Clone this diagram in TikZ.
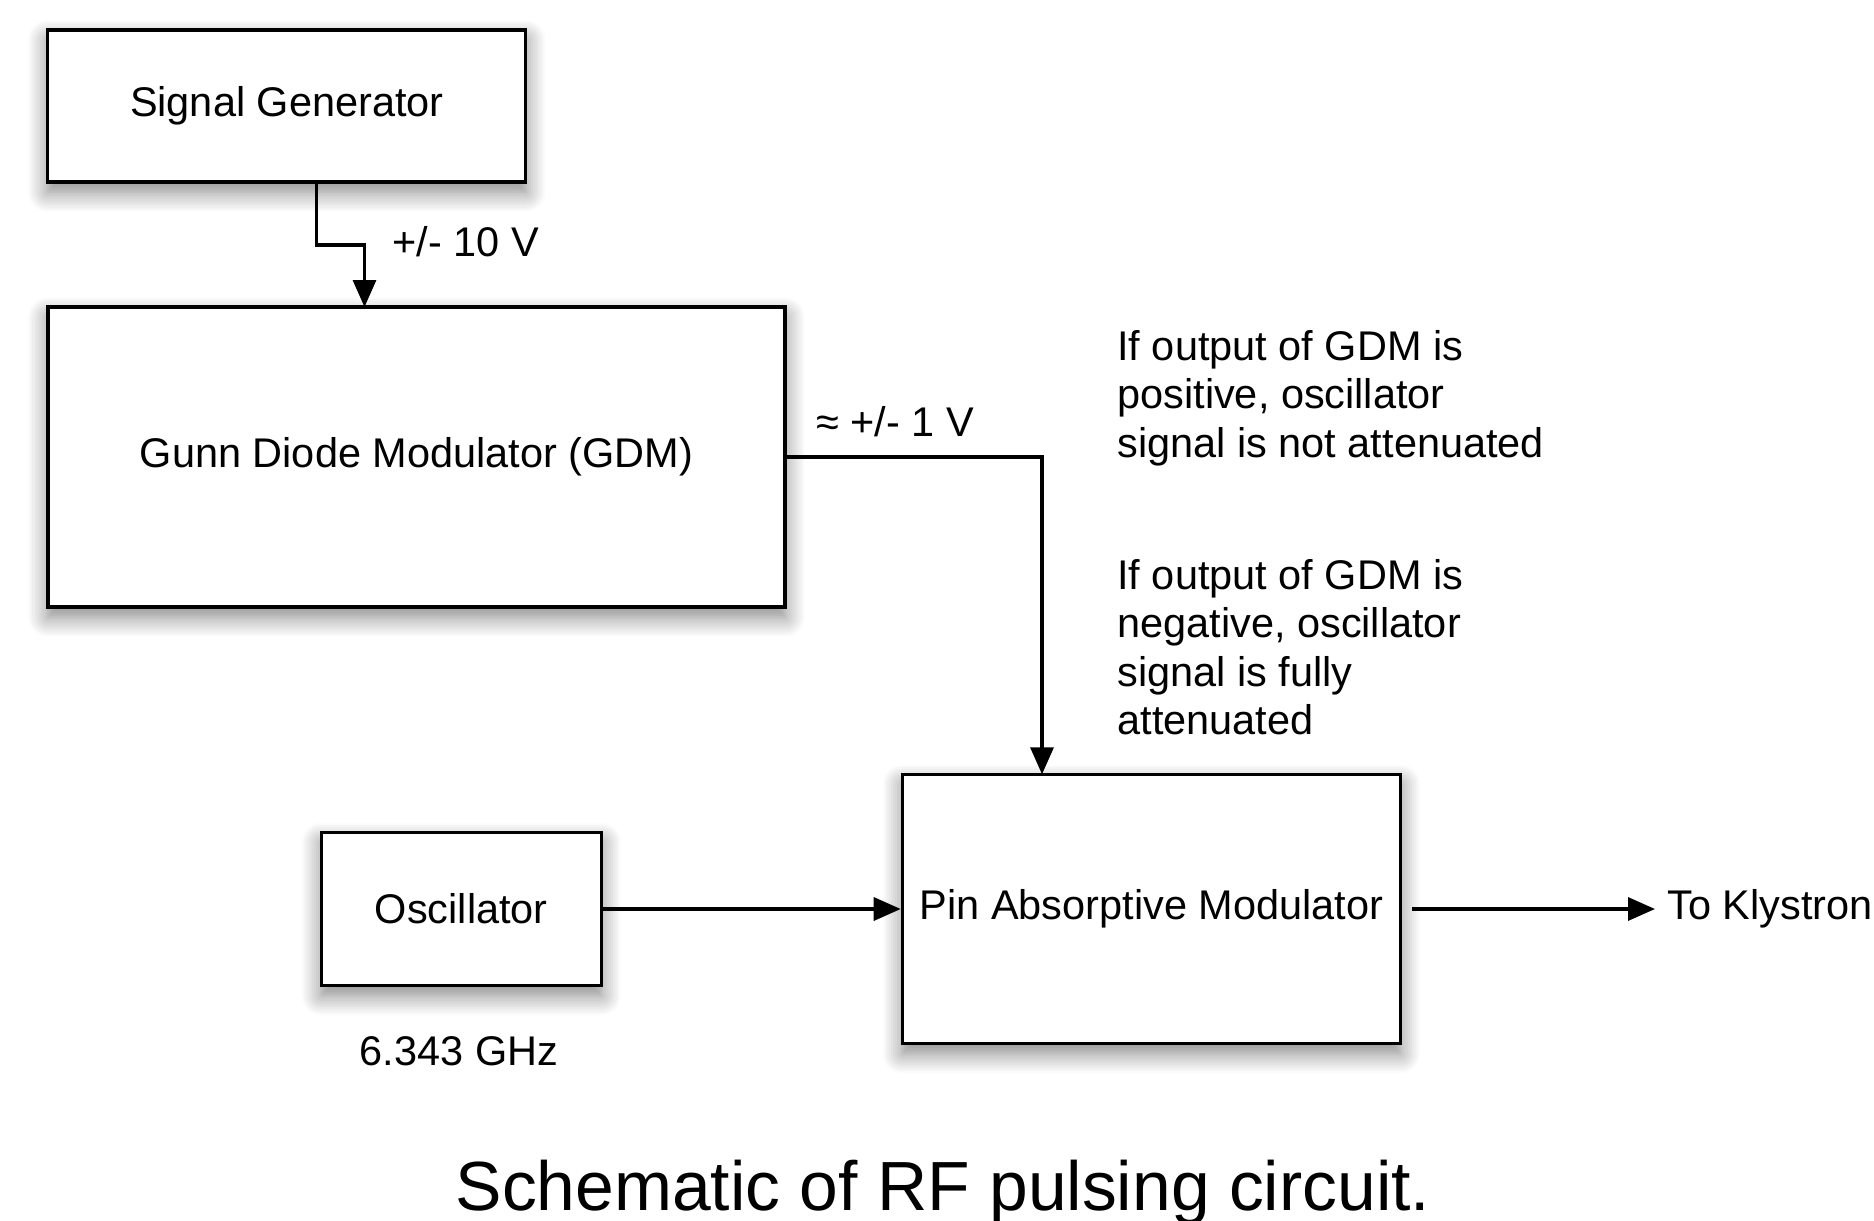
\documentclass[tikz,border=0pt]{standalone}
\usepackage{fontspec}
\setmainfont{Liberation Sans}
\usetikzlibrary{positioning, arrows.meta, shadows.blur}

\begin{document}
\begin{tikzpicture}[
        txt/.style={font=\fontsize{11.8}{13.8}\selectfont},
        block/.style={txt, draw, line width=0.95pt, fill=white, inner sep=0pt,
            blur shadow={shadow xshift=0pt, shadow yshift=-1mm,
                shadow blur radius=2mm, shadow blur steps=10, shadow opacity=50}},
        wire/.style={->, line width=0.95pt},
        >={Triangle[length=2.7mm, width=2.3mm]}
    ]
        \useasboundingbox (0,0) rectangle (18.74,12.2);

        \node[block, minimum width=4.78cm, minimum height=1.52cm] (siggen) at (2.868,11.14) {Signal Generator};
        \node[block, minimum width=7.37cm, minimum height=3cm] (gdm) at (4.165,7.63) {Gunn Diode Modulator (GDM)};
        \node[block, minimum width=2.8cm, minimum height=1.53cm] (osc) at (4.613,3.11) {Oscillator};
        \node[block, minimum width=4.98cm, minimum height=2.69cm] (pam) at (11.514,3.11) {Pin Absorptive Modulator};

        \coordinate (sgout) at (3.167,10.385);
        \coordinate (gdmin) at (3.645,9.13);
        \coordinate (pamin) at (10.42,4.457);

        \draw[wire] (sgout) -- ++(0,-0.635) -| (gdmin);
        \node[txt, anchor=west] (v10) at (3.8,9.78) {+/- 10 V};

        \draw[wire] (gdm.east) -| (pamin);
        \node[txt] (v1) at (8.95,7.98) {≈ +/- 1 V};

        \node[txt, anchor=west, align=left] (note1) at (11.05,8.22) {If output of GDM is\\positive, oscillator\\signal is not attenuated};
        \node[txt, anchor=west, align=left] (note2) at (11.05,5.73) {If output of GDM is\\negative, oscillator\\signal is fully\\attenuated};

        \draw[wire] (osc) -- (pam);
        \node[txt] (freq) at (4.59,1.685) {6.343 GHz};

        \node[txt, anchor=west] (klys) at (16.55,3.11) {To Klystron};
        \draw[wire] (pam.east) ++(0.1,0) -- (klys.west);

        \node[font=\fontsize{19.8}{24}\selectfont, anchor=base] (caption) at (9.43,0.1) {Schematic of RF pulsing circuit.};
    \end{tikzpicture}
\end{document}
